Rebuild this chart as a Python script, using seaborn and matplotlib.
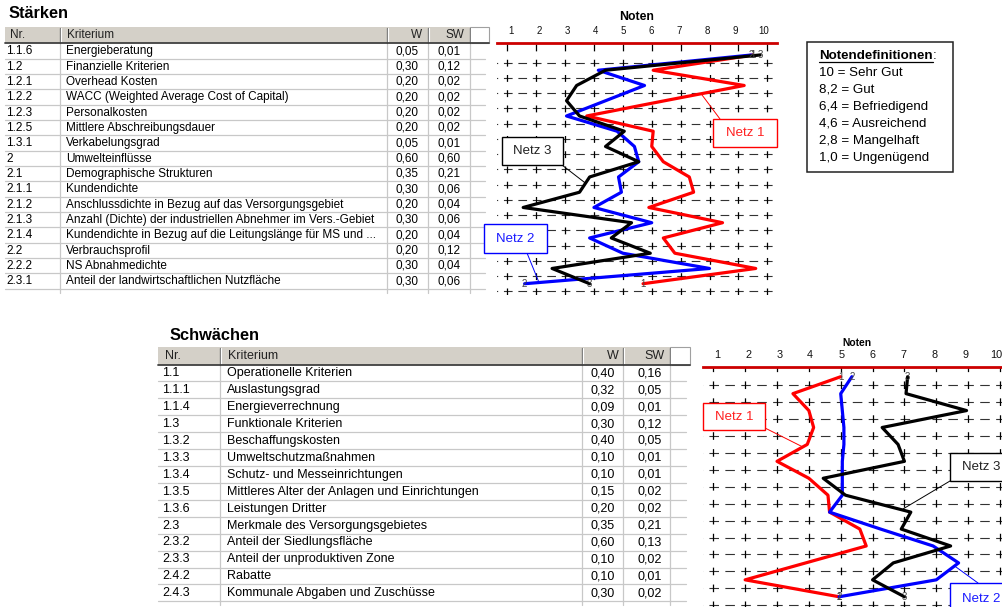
import matplotlib
matplotlib.use("Agg")
import matplotlib.pyplot as plt
from matplotlib.patches import Rectangle, ConnectionPatch
from matplotlib.transforms import offset_copy
import numpy as np
import pandas as pd
import seaborn as sns

# ---------------- Stärken ----------------
staerken_nr = ["1.1.6", "1.2", "1.2.1", "1.2.2", "1.2.3", "1.2.5", "1.3.1", "2",
               "2.1", "2.1.1", "2.1.2", "2.1.3", "2.1.4", "2.2", "2.2.2", "2.3.1"]
staerken_kriterium = [
    "Energieberatung",
    "Finanzielle Kriterien",
    "Overhead Kosten",
    "WACC (Weighted Average Cost of Capital)",
    "Personalkosten",
    "Mittlere Abschreibungsdauer",
    "Verkabelungsgrad",
    "Umwelteinflüsse",
    "Demographische Strukturen",
    "Kundendichte",
    "Anschlussdichte in Bezug auf das Versorgungsgebiet",
    "Anzahl (Dichte) der industriellen Abnehmer im Vers.-Gebiet",
    "Kundendichte in Bezug auf die Leitungslänge für MS und ...",
    "Verbrauchsprofil",
    "NS Abnahmedichte",
    "Anteil der landwirtschaftlichen Nutzfläche",
]
staerken_w = [0.05, 0.30, 0.20, 0.20, 0.20, 0.20, 0.05, 0.60,
              0.35, 0.30, 0.20, 0.30, 0.20, 0.20, 0.30, 0.30]
staerken_sw = [0.01, 0.12, 0.02, 0.02, 0.02, 0.02, 0.01, 0.60,
               0.21, 0.06, 0.04, 0.06, 0.04, 0.12, 0.04, 0.06]
staerken_netz1 = [9.50, 6.05, 9.20, 6.45, 3.75, 6.05, 6.00, 6.40,
                  7.30, 7.45, 5.90, 8.45, 6.40, 6.80, 9.60, 5.70]
staerken_netz2 = [9.45, 4.15, 5.75, 4.40, 3.05, 4.80, 5.40, 5.55,
                  4.85, 4.95, 4.00, 6.00, 3.85, 5.00, 8.00, 1.60]
staerken_netz3 = [9.75, 4.40, 3.40, 3.05, 3.50, 5.05, 4.40, 5.55,
                  3.85, 3.50, 1.55, 5.30, 4.60, 5.95, 2.55, 3.85]

# ---------------- Schwächen ----------------
schwaechen_nr = ["1.1", "1.1.1", "1.1.4", "1.3", "1.3.2", "1.3.3", "1.3.4",
                 "1.3.5", "1.3.6", "2.3", "2.3.2", "2.3.3", "2.4.2", "2.4.3"]
schwaechen_kriterium = [
    "Operationelle Kriterien",
    "Auslastungsgrad",
    "Energieverrechnung",
    "Funktionale Kriterien",
    "Beschaffungskosten",
    "Umweltschutzmaßnahmen",
    "Schutz- und Messeinrichtungen",
    "Mittleres Alter der Anlagen und Einrichtungen",
    "Leistungen Dritter",
    "Merkmale des Versorgungsgebietes",
    "Anteil der Siedlungsfläche",
    "Anteil der unproduktiven Zone",
    "Rabatte",
    "Kommunale Abgaben und Zuschüsse",
]
schwaechen_w = [0.40, 0.32, 0.09, 0.30, 0.40, 0.10, 0.10,
                0.15, 0.20, 0.35, 0.60, 0.10, 0.10, 0.30]
schwaechen_sw = [0.16, 0.05, 0.01, 0.12, 0.05, 0.01, 0.01,
                 0.02, 0.02, 0.21, 0.13, 0.02, 0.01, 0.02]
schwaechen_netz1 = [5.00, 3.50, 4.00, 4.15, 3.95, 3.00, 4.00,
                    4.60, 4.65, 5.60, 5.80, 3.90, 2.00, 4.95]
schwaechen_netz2 = [5.35, 5.00, 5.05, 5.10, 5.10, 5.05, 5.05,
                    5.05, 4.65, 6.25, 7.90, 8.70, 8.00, 4.95]
schwaechen_netz3 = [7.10, 7.05, 8.95, 6.30, 6.80, 7.00, 4.45,
                    5.15, 7.20, 6.90, 8.45, 6.65, 6.00, 7.00]

noten_ticks = list(range(1, 11))
noten_definitionen = ["10 = Sehr Gut", "8,2 = Gut", "6,4 = Befriedigend",
                      "4,6 = Ausreichend", "2,8 = Mangelhaft", "1,0 = Ungenügend"]
netze = ["Netz 1", "Netz 2", "Netz 3"]
netz_farben = {"Netz 1": "#ff0000", "Netz 2": "#0000ff", "Netz 3": "#000000"}

# ---------------- style ----------------
sns.set_theme(style="white")
plt.rcParams["font.family"] = ["Liberation Sans", "DejaVu Sans"]
plt.rcParams["lines.scale_dashes"] = False

W, H = 1003, 607
DPI = 100
fig = plt.figure(figsize=(W / DPI, H / DPI), dpi=DPI)
fig.patch.set_facecolor("white")

# pixel-coordinate layers for the tables (below) and the callouts (above)
bg = fig.add_axes([0, 0, 1, 1], zorder=0)
bg.set_xlim(0, W)
bg.set_ylim(H, 0)
bg.axis("off")

fg = fig.add_axes([0, 0, 1, 1], zorder=10)
fg.set_xlim(0, W)
fg.set_ylim(H, 0)
fg.axis("off")
fg.patch.set_alpha(0)


def px_axes(left, top, right, bottom, z=5):
    return fig.add_axes([left / W, 1 - bottom / H, (right - left) / W, (bottom - top) / H], zorder=z)


def fmt(v):
    return f"{v:.2f}".replace(".", ",")


HEADER_GREY = "#d4d0c8"
LINE_GREY = "#c8c8c8"


def draw_table(title, title_xy, x_left, cols, header_top, header_bottom,
               row_h, nr, krit, w, sw, text_x, fs, extra_right):
    bg.text(title_xy[0], title_xy[1], title, fontsize=11.8, fontweight="bold",
            ha="left", va="center", color="black")
    n = len(nr)
    body_bottom = header_bottom + n * row_h
    # header background
    bg.add_patch(Rectangle((x_left, header_top), cols[-1] - x_left, header_bottom - header_top,
                           fc=HEADER_GREY, ec="none", zorder=1))
    bg.add_patch(Rectangle((cols[-1], header_top), extra_right - cols[-1], header_bottom - header_top,
                           fc="white", ec="#a0a0a0", lw=0.8, zorder=1))
    for c in cols:
        bg.plot([c, c], [header_top + 1, header_bottom], color="#7a7a7a", lw=1.0, zorder=2)
        bg.plot([c + 1.2, c + 1.2], [header_top + 1, header_bottom], color="white", lw=0.8, zorder=2)
    bg.plot([x_left, extra_right], [header_bottom, header_bottom], color="#404040", lw=1.3, zorder=3)
    hy = (header_top + header_bottom) / 2
    bg.text(text_x["nr_h"], hy, "Nr.", fontsize=fs, ha="left", va="center", color="#222222", zorder=3)
    bg.text(text_x["krit_h"], hy, "Kriterium", fontsize=fs, ha="left", va="center", color="#222222", zorder=3)
    bg.text(text_x["w_h"], hy, "W", fontsize=fs, ha="right", va="center", color="#222222", zorder=3)
    bg.text(text_x["sw_h"], hy, "SW", fontsize=fs, ha="right", va="center", color="#222222", zorder=3)
    # body grid
    for i in range(1, n + 1):
        y = header_bottom + i * row_h
        bg.plot([x_left, extra_right - 4], [y, y], color=LINE_GREY, lw=0.9, zorder=1)
    for c in cols:
        bg.plot([c, c], [header_bottom, body_bottom + 4], color=LINE_GREY, lw=0.9, zorder=1)
    # cells
    for i in range(n):
        y = header_bottom + (i + 0.5) * row_h + 0.3
        bg.text(text_x["nr"], y, nr[i], fontsize=fs, ha="left", va="center", color="black", zorder=3)
        bg.text(text_x["krit"], y, krit[i], fontsize=fs, ha="left", va="center", color="black", zorder=3)
        bg.text(text_x["w"], y, fmt(w[i]), fontsize=fs, ha="right", va="center", color="black", zorder=3)
        bg.text(text_x["sw"], y, fmt(sw[i]), fontsize=fs, ha="right", va="center", color="black", zorder=3)


draw_table("Stärken", (9, 13), 5, [60, 387, 428, 470], 27, 43.3, 15.33,
           staerken_nr, staerken_kriterium, staerken_w, staerken_sw,
           dict(nr_h=10, krit_h=67, w_h=422, sw_h=464, nr=6, krit=66, w=419, sw=461),
           8.5, 489)

draw_table("Schwächen", (170, 335), 158, [220, 582, 623, 670], 347, 364.5, 16.92,
           schwaechen_nr, schwaechen_kriterium, schwaechen_w, schwaechen_sw,
           dict(nr_h=165, krit_h=228, w_h=619, sw_h=665, nr=162, krit=227, w=615, sw=662),
           9.0, 690)


def netz_frame(n1, n2, n3):
    rows = np.arange(len(n1))
    return pd.DataFrame({
        "Note": np.concatenate([n1, n2, n3]),
        "Zeile": np.tile(rows, 3),
        "Netz": np.repeat(netze, len(n1)),
    })


def noten_chart(ax, df, n_rows, xlim, ylim, tick_fs, label_fs, labelpad, label_squeeze):
    sns.lineplot(data=df, x="Note", y="Zeile", hue="Netz", hue_order=netze,
                 palette=netz_farben, sort=False, orient="y", estimator=None,
                 linewidth=2.3, legend=False, ax=ax, zorder=4)
    ax.set_facecolor("none")
    ax.set_xlim(*xlim)
    ax.set_ylim(*ylim)

    # dashed grid: dashes centred on integer notes and on row boundaries
    pos = ax.get_position()
    px_x = pos.width * W / (xlim[1] - xlim[0])
    px_y = pos.height * H / (ylim[0] - ylim[1])
    pt = 72 / DPI
    period = 0.5 * px_x * pt
    dash = 0.6 * period
    dash_units = dash / (px_x * pt)
    for k in range(n_rows):
        y = k + 0.5
        ax.plot([0.5 - dash_units / 2, 11.0], [y, y], color="#333333", lw=0.8,
                dashes=(dash, period - dash), zorder=1)
    vperiod = px_y * pt
    vfrac = 0.45
    for v in noten_ticks:
        ax.plot([v, v], [-0.5 - vfrac / 2, n_rows + 0.6], color="black", lw=0.9,
                dashes=(vfrac * vperiod, (1 - vfrac) * vperiod), zorder=1)

    # number of each net at both ends of its line
    for i, netz in enumerate(netze):
        sub = df[df["Netz"] == netz]
        for idx in (0, len(sub) - 1):
            ax.text(sub["Note"].iloc[idx], sub["Zeile"].iloc[idx], str(i + 1), fontsize=7,
                    ha="center", va="center", color="#444444", zorder=6)

    ax.set_xlim(*xlim)
    ax.set_ylim(*ylim)
    for s in ("left", "right", "bottom"):
        ax.spines[s].set_visible(False)
    ax.spines["top"].set_visible(True)
    ax.spines["top"].set_color("#cc0000")
    ax.spines["top"].set_linewidth(2.0)
    ax.set_yticks([])
    ax.set_ylabel("")
    ax.set_xticks([])
    ax.set_xlabel("")

    # note labels above the red line, drawn slightly closer together than the grid
    top_y = ylim[1]
    for v in noten_ticks:
        tr = offset_copy(ax.transData, fig=fig, x=(5.5 - v) * label_squeeze, y=6.5, units="dots")
        ax.text(v, top_y, str(v), transform=tr, ha="center", va="bottom",
                fontsize=tick_fs, color="#111111", clip_on=False)
    tr = offset_copy(ax.transData, fig=fig, x=0, y=labelpad, units="dots")
    ax.text((xlim[0] + xlim[1]) / 2, top_y, "Noten", transform=tr, ha="center", va="bottom",
            fontsize=label_fs, fontweight="bold", color="black", clip_on=False)


# top chart: note 1 -> x 507.3 px, note 10 -> 767.3 px; row 0 -> 55 px, row 15 -> 284 px
ax_top = px_axes(497, 43, 777, 295)
noten_chart(ax_top, netz_frame(staerken_netz1, staerken_netz2, staerken_netz3), len(staerken_nr),
            (0.6435, 10.336), (15.74, -0.786), 7.0, 8.8, 20, 0.8)

# bottom chart: note 1 -> x 713.3 px, note 10 -> 1000 px; row 0 -> 376.7 px, row 13 -> 596.7 px
ax_bot = px_axes(703, 366.7, 1011, 612)
noten_chart(ax_bot, netz_frame(schwaechen_netz1, schwaechen_netz2, schwaechen_netz3), len(schwaechen_nr),
            (0.677, 10.345), (13.90, -0.591), 7.8, 7.4, 19, 0.88)


def netz_box(label, color, textcolor, box, start, target_ax, target):
    x0, y0, x1, y1 = box
    fg.add_patch(Rectangle((x0, y0), x1 - x0, y1 - y0, fc="white", ec=color, lw=1.0, zorder=3))
    fg.text((x0 + x1) / 2, (y0 + y1) / 2 + 0.5, label, ha="center", va="center",
            fontsize=9.5, color=textcolor, zorder=4)
    con = ConnectionPatch(xyA=start, coordsA=fg.transData, xyB=target, coordsB=target_ax.transData,
                          color=color, lw=0.7, zorder=2)
    fg.add_artist(con)


netz_box("Netz 1", "#ff0000", "#ff2020", (713, 119, 777, 147), (720, 119), ax_top, (7.74, 2.62))
netz_box("Netz 3", "#000000", "#222222", (502, 137, 563, 165), (562, 165), ax_top, (3.69, 8.38))
netz_box("Netz 2", "#0000ff", "#1a1aff", (484, 224, 547, 253), (527, 253), ax_top, (2.10, 14.93))

netz_box("Netz 1", "#ff0000", "#ff2020", (703, 403, 765, 430), (765, 428), ax_bot, (3.81, 4.15))
netz_box("Netz 3", "#000000", "#222222", (950, 453, 1013, 481), (950, 481), ax_bot, (6.95, 7.82))
netz_box("Netz 2", "#0000ff", "#1a1aff", (950, 583, 1013, 615), (978, 583), ax_bot, (8.58, 11.19))

# grade definitions
fg.add_patch(Rectangle((807, 42), 146, 130, fc="white", ec="#222222", lw=1.1, zorder=3))
head = fg.text(819, 56, "Notendefinitionen", fontsize=9.6, fontweight="bold",
               ha="left", va="center", color="black", zorder=4)
renderer = fig.canvas.get_renderer()
bb = head.get_window_extent(renderer)
(hx0, hy0), (hx1, hy1) = fg.transData.inverted().transform([[bb.x0, bb.y0], [bb.x1, bb.y1]])
fg.plot([hx0, hx1], [hy0 - 0.5, hy0 - 0.5], color="black", lw=0.9, zorder=4)
fg.text(hx1, 56, ":", fontsize=9.6, ha="left", va="center", color="black", zorder=4)
for i, line in enumerate(noten_definitionen):
    fg.text(819, 73 + i * 17, line, fontsize=9.6, ha="left", va="center", color="black", zorder=4)

fig.savefig("out.png", dpi=DPI, facecolor="white")
